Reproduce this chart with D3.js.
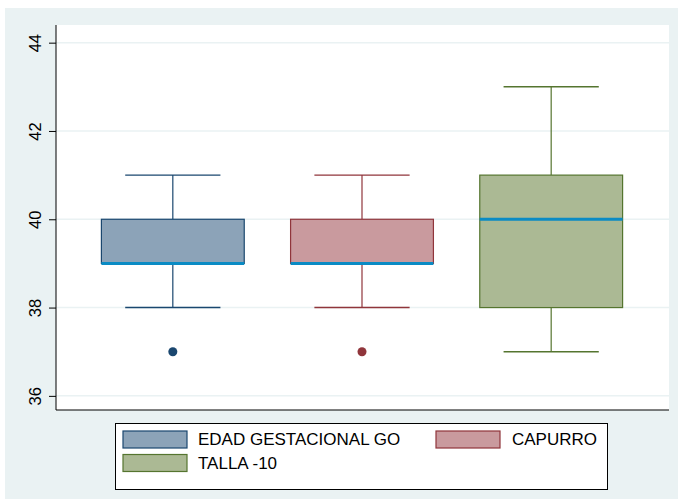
<!DOCTYPE html>
<html>
<head>
<meta charset="utf-8">
<script src="https://cdn.jsdelivr.net/npm/d3@7"></script>
<style>
  html, body { margin: 0; padding: 0; background: #ffffff; }
  svg { display: block; font-family: "Liberation Sans", Arial, sans-serif; }
</style>
</head>
<body>
<svg id="chart" width="678" height="499"></svg>
<script>
// ---- data ----
const categories = ["EDAD GESTACIONAL GO", "CAPURRO", "TALLA -10"];
const lowerWhisker = [38, 38, 37];
const q1Values     = [39, 39, 38];
const medianValues = [39, 39, 40];
const q3Values     = [40, 40, 41];
const upperWhisker = [41, 41, 43];
const outliers     = [[37], [37], []];
const yTicks       = [36, 38, 40, 42, 44];

const fills   = ["#8ca3b8", "#c99a9e", "#abb994"];
const strokes = ["#1a476f", "#90353b", "#55752f"];
const medianColor = "#0a8bc4";

const svg = d3.select("#chart");
const W = 678, H = 499;

// outer panel
svg.append("rect").attr("x", 5).attr("y", 8).attr("width", W - 5).attr("height", H - 8)
  .attr("fill", "#eaf2f3");

const plot = { left: 56, right: 669, top: 25, bottom: 410 };
svg.append("rect").attr("x", plot.left).attr("y", plot.top)
  .attr("width", plot.right - plot.left).attr("height", plot.bottom - plot.top)
  .attr("fill", "#ffffff");

const y = d3.scaleLinear().domain([35.68, 44.4]).range([plot.bottom, plot.top]);
const x = d3.scaleBand().domain(categories).range([plot.left, plot.right - 1])
  .paddingInner(0.245).paddingOuter(0.24);

// gridlines
svg.append("g").selectAll("line").data(yTicks).join("line")
  .attr("x1", plot.left).attr("x2", plot.right)
  .attr("y1", d => y(d)).attr("y2", d => y(d))
  .attr("stroke", "#eaf2f3").attr("stroke-width", 1.5);

// y axis
const yAxis = d3.axisLeft(y).tickValues(yTicks).tickSize(7).tickPadding(6);
const gy = svg.append("g").attr("transform", `translate(${plot.left},0)`).call(yAxis);
gy.select(".domain").remove();
gy.selectAll(".tick line").attr("stroke", "#000").attr("stroke-width", 1);
gy.selectAll(".tick text")
  .attr("font-size", 16.5).attr("fill", "#000")
  .attr("x", null).attr("dy", null)
  .attr("text-anchor", "middle")
  .attr("transform", "translate(-21,0) rotate(-90)")
  .attr("dy", "0.35em");
// axis lines
svg.append("line").attr("x1", plot.left).attr("x2", plot.left)
  .attr("y1", plot.top).attr("y2", plot.bottom).attr("stroke", "#000").attr("stroke-width", 1);
svg.append("line").attr("x1", plot.left).attr("x2", plot.right)
  .attr("y1", plot.bottom).attr("y2", plot.bottom).attr("stroke", "#000").attr("stroke-width", 1);

// boxes
const bw = x.bandwidth();
categories.forEach((c, i) => {
  const g = svg.append("g");
  const x0 = x(c), cx = x0 + bw / 2, capW = bw * 2 / 3;
  g.append("line").attr("x1", cx).attr("x2", cx)
    .attr("y1", y(upperWhisker[i])).attr("y2", y(q3Values[i]))
    .attr("stroke", strokes[i]).attr("stroke-width", 1.2);
  g.append("line").attr("x1", cx).attr("x2", cx)
    .attr("y1", y(q1Values[i])).attr("y2", y(lowerWhisker[i]))
    .attr("stroke", strokes[i]).attr("stroke-width", 1.2);
  [upperWhisker[i], lowerWhisker[i]].forEach(v => {
    g.append("line").attr("x1", cx - capW / 2).attr("x2", cx + capW / 2)
      .attr("y1", y(v)).attr("y2", y(v))
      .attr("stroke", strokes[i]).attr("stroke-width", 1.4);
  });
  g.append("rect").attr("x", x0).attr("y", y(q3Values[i]))
    .attr("width", bw).attr("height", y(q1Values[i]) - y(q3Values[i]))
    .attr("fill", fills[i]).attr("stroke", strokes[i]).attr("stroke-width", 1.2);
  g.append("line").attr("x1", x0).attr("x2", x0 + bw)
    .attr("y1", y(medianValues[i])).attr("y2", y(medianValues[i]))
    .attr("stroke", medianColor).attr("stroke-width", 3);
  g.selectAll("circle").data(outliers[i]).join("circle")
    .attr("cx", cx).attr("cy", d => y(d)).attr("r", 4.5)
    .attr("fill", strokes[i]);
});

// legend
const leg = svg.append("g");
leg.append("rect").attr("x", 115.5).attr("y", 423.5).attr("width", 492).attr("height", 66)
  .attr("fill", "#ffffff").attr("stroke", "#000").attr("stroke-width", 1);
const legPos = [
  { sx: 123, sy: 431, tx: 198 },
  { sx: 436, sy: 431, tx: 512 },
  { sx: 123, sy: 454.5, tx: 198 }
];
categories.forEach((c, i) => {
  const p = legPos[i];
  leg.append("rect").attr("x", p.sx).attr("y", p.sy).attr("width", 64).attr("height", 17)
    .attr("fill", fills[i]).attr("stroke", strokes[i]).attr("stroke-width", 1.2);
  leg.append("text").attr("x", p.tx).attr("y", p.sy + 8.5).attr("dy", "0.35em")
    .attr("font-size", 17).attr("fill", "#000").text(c);
});
</script>
</body>
</html>
